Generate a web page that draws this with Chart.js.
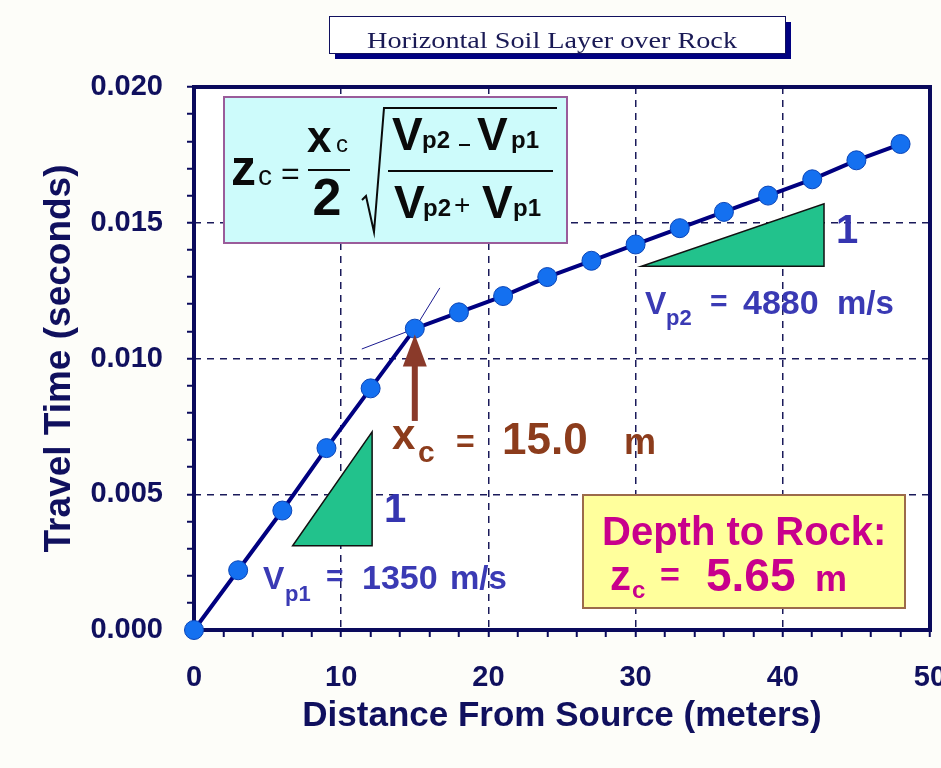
<!DOCTYPE html>
<html>
<head>
<meta charset="utf-8">
<title>Horizontal Soil Layer over Rock</title>
<script src="https://cdn.jsdelivr.net/npm/chart.js@4.4.1/dist/chart.umd.min.js"></script>
<style>
  html, body { margin: 0; padding: 0; background: #fdfdf9; }
  #wrap { width: 941px; height: 768px; }
</style>
</head>
<body>
<div id="wrap"><canvas id="refractionChart" width="941" height="768"></canvas></div>
<script>
// values
const distances = [0, 3, 6, 9, 12, 15, 18, 21, 24, 27, 30, 33, 36, 39, 42, 45, 48];
const travelTimes = [0, 0.0022, 0.0044, 0.0067, 0.0089, 0.0111, 0.0117, 0.0123, 0.0130, 0.0136,
                     0.0142, 0.0148, 0.0154, 0.0160, 0.0166, 0.0173, 0.0179];

// short thin extensions of the two branches at the crossover
const steepTangentX = [15, 16.7];
const steepTangentY = [0.0111, 0.0126];
const shallowTangentX = [11.4, 15];
const shallowTangentY = [0.01035, 0.0111];

// slope triangles (x, y of the three corners)
const slopeTriangle1X = [6.7, 12.1, 12.1];
const slopeTriangle1Y = [0.0031, 0.0031, 0.0073];
const slopeTriangle2X = [30.4, 42.8, 42.8];
const slopeTriangle2Y = [0.0134, 0.0134, 0.0157];

// crossover arrow (x, from y, to y)
const crossoverX = 15;
const arrowFromY = 0.0077;
const arrowToY = 0.01088;

const xTickLabels = ['0', '10', '20', '30', '40', '50'];
const yTickLabels = ['0.000', '0.005', '0.010', '0.015', '0.020'];

const navy = '#10105e';
const sans = '"Liberation Sans", Arial, sans-serif';

function toPoints(xs, ys) {
    return xs.map((x, i) => ({ x: x, y: ys[i] }));
}

function text(ctx, s, x, y, font, color, align) {
    ctx.font = font;
    ctx.fillStyle = color;
    ctx.textAlign = align || 'left';
    ctx.textBaseline = 'alphabetic';
    ctx.fillText(s, x, y);
}

// Background, plot area and frame
const framePlugin = {
    id: 'frame',
    beforeDraw(chart) {
        const { ctx, chartArea: a } = chart;
        ctx.save();
        ctx.fillStyle = '#fdfdf9';
        ctx.fillRect(0, 0, chart.width, chart.height);
        ctx.fillStyle = '#ffffff';
        ctx.fillRect(a.left, a.top, a.right - a.left, a.bottom - a.top);
        ctx.restore();
    },
    beforeDatasetsDraw(chart) {
        const { ctx, chartArea: a } = chart;
        ctx.save();
        ctx.strokeStyle = '#0a0a5c';
        ctx.lineWidth = 4;
        ctx.strokeRect(a.left, a.top, a.right - a.left, a.bottom - a.top);
        ctx.restore();
    }
};

// Triangles, arrow, formula and text boxes
const notesPlugin = {
    id: 'notes',
    afterDatasetsDraw(chart) {
        const ctx = chart.ctx;
        const xs = chart.scales.x, ys = chart.scales.y;
        ctx.save();

        // slope triangles
        [[slopeTriangle1X, slopeTriangle1Y], [slopeTriangle2X, slopeTriangle2Y]].forEach(([tx, ty]) => {
            ctx.beginPath();
            tx.forEach((v, i) => {
                const px = xs.getPixelForValue(v), py = ys.getPixelForValue(ty[i]);
                if (i === 0) ctx.moveTo(px, py); else ctx.lineTo(px, py);
            });
            ctx.closePath();
            ctx.fillStyle = '#22c28c';
            ctx.fill();
            ctx.strokeStyle = '#111111';
            ctx.lineWidth = 1.5;
            ctx.stroke();
        });
        text(ctx, '1', 384, 522, 'bold 40px ' + sans, '#3535b0');
        text(ctx, '1', 836, 243, 'bold 40px ' + sans, '#3535b0');

        // crossover arrow
        const ax = xs.getPixelForValue(crossoverX);
        const ay0 = ys.getPixelForValue(arrowFromY), ay1 = ys.getPixelForValue(arrowToY);
        ctx.strokeStyle = '#8a3a2a';
        ctx.lineWidth = 6;
        ctx.beginPath();
        ctx.moveTo(ax, ay0);
        ctx.lineTo(ax, ay1 + 26);
        ctx.stroke();
        ctx.fillStyle = '#8a3a2a';
        ctx.beginPath();
        ctx.moveTo(ax, ay1);
        ctx.lineTo(ax - 12, ay1 + 32);
        ctx.lineTo(ax + 12, ay1 + 32);
        ctx.closePath();
        ctx.fill();

        // xc = 15.0 m
        const brown = '#8c3c1c';
        text(ctx, 'x', 392, 449, 'bold 42px ' + sans, brown);
        text(ctx, 'c', 418, 462, 'bold 30px ' + sans, brown);
        text(ctx, '=', 456, 452, 'bold 32px ' + sans, brown);
        text(ctx, '15.0', 502, 454, 'bold 44px ' + sans, brown);
        text(ctx, 'm', 624, 454, 'bold 36px ' + sans, brown);

        // velocity labels
        const blue = '#3a3ab4';
        text(ctx, 'V', 645, 314, 'bold 32px ' + sans, blue);
        text(ctx, 'p2', 666, 325, 'bold 22px ' + sans, blue);
        text(ctx, '=', 710, 311, 'bold 30px ' + sans, blue);
        text(ctx, '4880', 743, 314, 'bold 34px ' + sans, blue);
        text(ctx, 'm/s', 837, 314, 'bold 33px ' + sans, blue);

        text(ctx, 'V', 263, 589, 'bold 32px ' + sans, blue);
        text(ctx, 'p1', 285, 601, 'bold 22px ' + sans, blue);
        text(ctx, '=', 326, 586, 'bold 30px ' + sans, blue);
        text(ctx, '1350', 362, 589, 'bold 34px ' + sans, blue);
        text(ctx, 'm/s', 450, 589, 'bold 33px ' + sans, blue);

        // formula box
        ctx.fillStyle = '#cdfbfb';
        ctx.fillRect(224, 97, 343, 146);
        ctx.strokeStyle = '#9a5c9a';
        ctx.lineWidth = 2;
        ctx.strokeRect(224, 97, 343, 146);
        const k = '#0a0a0a';
        text(ctx, 'z', 231, 185, 'bold 50px ' + sans, k);
        text(ctx, 'c', 258, 185, '28px ' + sans, k);
        text(ctx, '=', 281, 184, '32px ' + sans, k);
        text(ctx, 'x', 307, 152, 'bold 44px ' + sans, k);
        text(ctx, 'c', 336, 152, '24px ' + sans, k);
        text(ctx, '2', 327, 215, 'bold 52px ' + sans, k, 'center');
        ctx.strokeStyle = k;
        ctx.lineWidth = 2;
        ctx.beginPath();
        ctx.moveTo(308, 170); ctx.lineTo(350, 170);
        ctx.moveTo(388, 171); ctx.lineTo(553, 171);
        ctx.moveTo(459, 145); ctx.lineTo(470, 145);
        ctx.stroke();
        ctx.beginPath();
        ctx.moveTo(362, 200); ctx.lineTo(366, 196); ctx.lineTo(374, 232);
        ctx.lineTo(384, 108); ctx.lineTo(557, 108);
        ctx.stroke();
        text(ctx, 'V', 392, 150, 'bold 46px ' + sans, k);
        text(ctx, 'p2', 422, 148, 'bold 24px ' + sans, k);
        text(ctx, 'V', 477, 150, 'bold 46px ' + sans, k);
        text(ctx, 'p1', 511, 148, 'bold 24px ' + sans, k);
        text(ctx, 'V', 394, 218, 'bold 46px ' + sans, k);
        text(ctx, 'p2', 423, 216, 'bold 24px ' + sans, k);
        text(ctx, '+', 454, 214, '28px ' + sans, k);
        text(ctx, 'V', 482, 218, 'bold 46px ' + sans, k);
        text(ctx, 'p1', 513, 216, 'bold 24px ' + sans, k);

        // depth box
        ctx.fillStyle = '#ffff9c';
        ctx.fillRect(583, 495, 322, 113);
        ctx.strokeStyle = '#9c6b4a';
        ctx.lineWidth = 2;
        ctx.strokeRect(583, 495, 322, 113);
        const mag = '#c8008c';
        text(ctx, 'Depth to Rock:', 602, 545, 'bold 40px ' + sans, mag);
        text(ctx, 'z', 610, 590, 'bold 42px ' + sans, mag);
        text(ctx, 'c', 632, 598, 'bold 24px ' + sans, mag);
        text(ctx, '=', 660, 586, 'bold 34px ' + sans, mag);
        text(ctx, '5.65', 706, 591, 'bold 46px ' + sans, mag);
        text(ctx, 'm', 815, 591, 'bold 36px ' + sans, mag);

        // title box
        ctx.fillStyle = '#000080';
        ctx.fillRect(335, 22, 456, 37);
        ctx.fillStyle = '#ffffff';
        ctx.fillRect(329, 16, 456, 37);
        ctx.strokeStyle = '#10105e';
        ctx.lineWidth = 1;
        ctx.strokeRect(329.5, 16.5, 456, 37);
        ctx.font = '24px "Liberation Serif", "Times New Roman", serif';
        const title = 'Horizontal Soil Layer over Rock';
        const w = ctx.measureText(title).width;
        ctx.save();
        ctx.translate(552, 48);
        ctx.scale(370 / w, 1);
        ctx.fillStyle = '#1a1a55';
        ctx.textAlign = 'center';
        ctx.fillText(title, 0, 0);
        ctx.restore();

        ctx.restore();
    }
};

const isMajorX = v => Math.abs(v % 10) < 1e-6;
const isMajorY = v => Math.round(v * 1000) % 5 === 0;

const ctx = document.getElementById('refractionChart').getContext('2d');
new Chart(ctx, {
    type: 'scatter',
    data: {
        datasets: [{
            label: 'Travel time',
            data: toPoints(distances, travelTimes),
            showLine: true,
            borderColor: '#000080',
            borderWidth: 4,
            pointRadius: 9.5,
            pointBackgroundColor: '#1470f0',
            pointBorderColor: '#0a45b8',
            pointBorderWidth: 1,
            clip: false,
            order: 1
        }, {
            label: 'steep tangent',
            data: toPoints(steepTangentX, steepTangentY),
            showLine: true,
            borderColor: '#1a1a90',
            borderWidth: 1,
            pointRadius: 0,
            order: 2
        }, {
            label: 'shallow tangent',
            data: toPoints(shallowTangentX, shallowTangentY),
            showLine: true,
            borderColor: '#1a1a90',
            borderWidth: 1,
            pointRadius: 0,
            order: 2
        }]
    },
    options: {
        responsive: false,
        animation: false,
        devicePixelRatio: 1,
        layout: { padding: { top: 87, right: 11, left: 0, bottom: 0 } },
        plugins: {
            legend: { display: false },
            tooltip: { enabled: false }
        },
        scales: {
            x: {
                type: 'linear',
                min: 0,
                max: 50,
                afterFit(scale) {
                    scale.height = 138;
                    scale.paddingLeft = 0;
                    scale.paddingRight = 0;
                },
                ticks: {
                    stepSize: 2,
                    autoSkip: false,
                    maxRotation: 0,
                    padding: 24,
                    color: navy,
                    font: { family: 'Liberation Sans', size: 29, weight: 'bold' },
                    callback: v => isMajorX(v) ? xTickLabels[Math.round(v / 10)] : ''
                },
                grid: {
                    color: c => (c.tick && isMajorX(c.tick.value) && c.tick.value > 0 && c.tick.value < 50) ? '#1a1a5a' : 'rgba(0,0,0,0)',
                    lineWidth: 1.5,
                    tickColor: '#0a0a5c',
                    tickLength: 7,
                    tickWidth: 2
                },
                border: { display: false, dash: [7, 6] },
                title: {
                    display: true,
                    text: 'Distance From Source (meters)',
                    color: navy,
                    font: { family: 'Liberation Sans', size: 35, weight: 'bold' },
                    padding: { top: 0, bottom: 31 }
                }
            },
            y: {
                type: 'linear',
                min: 0,
                max: 0.02,
                afterFit(scale) {
                    scale.width = 194;
                },
                ticks: {
                    stepSize: 0.001,
                    autoSkip: false,
                    padding: 24,
                    color: navy,
                    font: { family: 'Liberation Sans', size: 29, weight: 'bold' },
                    callback: v => isMajorY(v) ? yTickLabels[Math.round(v * 200)] : ''
                },
                grid: {
                    color: c => (c.tick && isMajorY(c.tick.value) && c.tick.value > 0.0001 && c.tick.value < 0.0199) ? '#1a1a5a' : 'rgba(0,0,0,0)',
                    lineWidth: 1.5,
                    tickColor: '#0a0a5c',
                    tickLength: 7,
                    tickWidth: 2
                },
                border: { display: false, dash: [7, 6] },
                title: {
                    display: true,
                    text: 'Travel Time (seconds)',
                    color: navy,
                    font: { family: 'Liberation Sans', size: 37, weight: 'bold' },
                    padding: { top: 38, bottom: 0 }
                }
            }
        }
    },
    plugins: [framePlugin, notesPlugin]
});
</script>
</body>
</html>
